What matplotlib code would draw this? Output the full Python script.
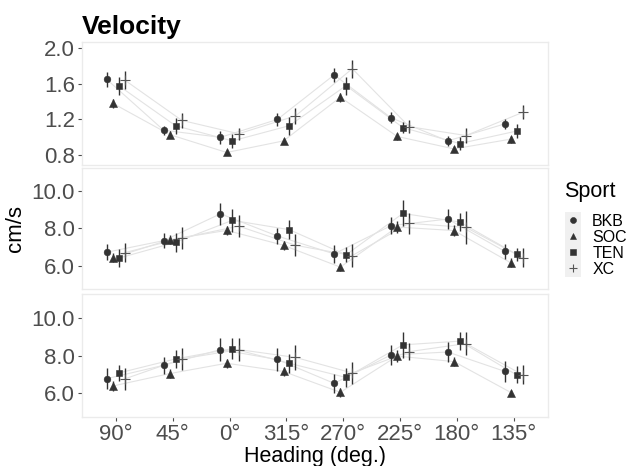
import numpy as np
import matplotlib.pyplot as plt
from matplotlib.patches import Rectangle

################################################################################
# Data
################################################################################

headings = ["90°", "45°", "0°", "315°", "270°", "225°", "180°", "135°"]
sports = ["BKB", "SOC", "TEN", "XC"]

# Panel 1 (top) - means and half error bars
p1_bkb = [1.65, 1.08, 1.00, 1.20, 1.70, 1.22, 0.96, 1.15]
p1_soc = [1.38, 1.03, 0.83, 0.96, 1.45, 1.01, 0.87, 0.98]
p1_ten = [1.58, 1.13, 0.96, 1.13, 1.58, 1.11, 0.93, 1.07]
p1_xc = [1.64, 1.19, 1.04, 1.24, 1.77, 1.12, 1.02, 1.28]
p1_bkb_err = [0.08, 0.05, 0.07, 0.07, 0.08, 0.06, 0.06, 0.06]
p1_soc_err = [0.05, 0.04, 0.03, 0.03, 0.05, 0.04, 0.03, 0.04]
p1_ten_err = [0.10, 0.09, 0.08, 0.10, 0.10, 0.06, 0.07, 0.08]
p1_xc_err = [0.10, 0.08, 0.07, 0.09, 0.10, 0.07, 0.08, 0.08]

# Panel 2 (middle)
p2_bkb = [6.72, 7.34, 8.78, 7.59, 6.63, 8.14, 8.50, 6.77]
p2_soc = [6.42, 7.40, 7.89, 7.09, 5.92, 8.07, 7.88, 6.15]
p2_ten = [6.40, 7.25, 8.43, 7.93, 6.58, 8.80, 8.34, 6.61]
p2_xc = [6.70, 7.48, 8.12, 7.09, 6.54, 8.27, 8.05, 6.42]
p2_bkb_err = [0.42, 0.40, 0.60, 0.45, 0.50, 0.45, 0.55, 0.40]
p2_soc_err = [0.25, 0.25, 0.25, 0.25, 0.20, 0.30, 0.30, 0.25]
p2_ten_err = [0.50, 0.50, 0.60, 0.50, 0.40, 0.70, 0.50, 0.35]
p2_xc_err = [0.50, 0.60, 0.60, 0.60, 0.60, 0.55, 0.90, 0.50]

# Panel 3 (bottom)
p3_bkb = [6.77, 7.48, 8.32, 7.79, 6.52, 8.03, 8.19, 7.16]
p3_soc = [6.38, 7.04, 7.59, 7.15, 6.04, 7.97, 7.68, 6.03]
p3_ten = [7.07, 7.82, 8.37, 7.59, 6.83, 8.57, 8.77, 6.97]
p3_xc = [6.76, 7.82, 8.32, 7.90, 7.07, 8.21, 8.64, 6.97]
p3_bkb_err = [0.55, 0.45, 0.60, 0.60, 0.50, 0.55, 0.55, 0.55]
p3_soc_err = [0.25, 0.25, 0.25, 0.25, 0.25, 0.30, 0.25, 0.15]
p3_ten_err = [0.40, 0.50, 0.55, 0.50, 0.50, 0.70, 0.50, 0.45]
p3_xc_err = [0.60, 0.60, 0.60, 0.65, 0.60, 0.45, 0.60, 0.50]

panels = [
    ([p1_bkb, p1_soc, p1_ten, p1_xc], [p1_bkb_err, p1_soc_err, p1_ten_err, p1_xc_err]),
    ([p2_bkb, p2_soc, p2_ten, p2_xc], [p2_bkb_err, p2_soc_err, p2_ten_err, p2_xc_err]),
    ([p3_bkb, p3_soc, p3_ten, p3_xc], [p3_bkb_err, p3_soc_err, p3_ten_err, p3_xc_err]),
]

y_ticks = [[0.8, 1.2, 1.6, 2.0], [6.0, 8.0, 10.0], [6.0, 8.0, 10.0]]
y_lims = [(0.69, 2.07), (4.75, 11.25), (4.72, 11.28)]

################################################################################
# Styles
################################################################################

markers = ["o", "^", "s", "+"]
msizes = [4.8, 5.5, 4.8, 7]
offsets = [-0.16, -0.05, 0.05, 0.16]
dark = "#333333"
tick_grey = "#4d4d4d"

plt.rcParams["font.family"] = "Liberation Sans"

fig = plt.figure(figsize=(6.34, 4.66), dpi=100)

# panel boxes in figure fractions [left, bottom, width, height]
boxes = [
    [0.129, 0.646, 0.735, 0.264],
    [0.129, 0.380, 0.735, 0.260],
    [0.129, 0.105, 0.735, 0.264],
]

x = np.arange(len(headings))
handles = []

for i, (vals, errs) in enumerate(panels):
    ax = fig.add_axes(boxes[i])
    for j, sport in enumerate(sports):
        xs = x + offsets[j]
        ax.plot(xs, vals[j], color="#e3e3e3", linewidth=0.8, zorder=1)
        ax.errorbar(xs, vals[j], yerr=errs[j], fmt="none", ecolor=dark,
                    elinewidth=1.0, capsize=0, zorder=2)
        h, = ax.plot(xs, vals[j], linestyle="none", marker=markers[j],
                     markersize=msizes[j], color=dark if j < 3 else "#555555",
                     markeredgewidth=0.8 if j == 3 else 0.4, zorder=3,
                     label=sport)
        if i == 0:
            handles.append(h)
    ax.set_xlim(-0.6, len(headings) - 0.4)
    ax.set_ylim(*y_lims[i])
    ax.set_yticks(y_ticks[i])
    ax.set_yticklabels(["%.1f" % v for v in y_ticks[i]])
    ax.set_xticks(x)
    if i == 2:
        ax.set_xticklabels(headings)
        ax.tick_params(axis="x", length=3, color=tick_grey, labelsize=16,
                       labelcolor=tick_grey, pad=2)
    else:
        ax.tick_params(axis="x", length=0, labelbottom=False)
    ax.tick_params(axis="y", length=3, color=tick_grey, labelsize=16,
                   labelcolor=tick_grey, pad=2)
    for sp in ax.spines.values():
        sp.set_color("#ebebeb")
        sp.set_linewidth(1.0)
    ax.set_facecolor("white")

    if i == 0:
        ax.set_title("Velocity", loc="left", fontsize=19, fontweight="bold",
                      pad=6)
    if i == 1:
        ax.set_ylabel("cm/s", fontsize=16, labelpad=4)
    if i == 2:
        ax.set_xlabel("Heading (deg.)", fontsize=15.5, labelpad=1)

# legend key background (light grey like ggplot keys)
fig.patches.append(Rectangle((565 / 634, 1 - 277 / 466), 16 / 634, 65 / 466,
                             transform=fig.transFigure, facecolor="#f0f0f0",
                             edgecolor="none", zorder=0))
fig.text(564 / 634, 1 - 192 / 466, "Sport", fontsize=15.5, ha="left",
         va="center")
leg = fig.legend(handles=handles, labels=sports, loc="upper left",
                 bbox_to_anchor=(565 / 634, 1 - 214 / 466),
                 frameon=False, fontsize=11.5, handletextpad=0.7,
                 handlelength=1.0, labelspacing=0.06, borderpad=0.0,
                 borderaxespad=0.0, markerscale=0.9)

fig.savefig("out.png", dpi=100)
